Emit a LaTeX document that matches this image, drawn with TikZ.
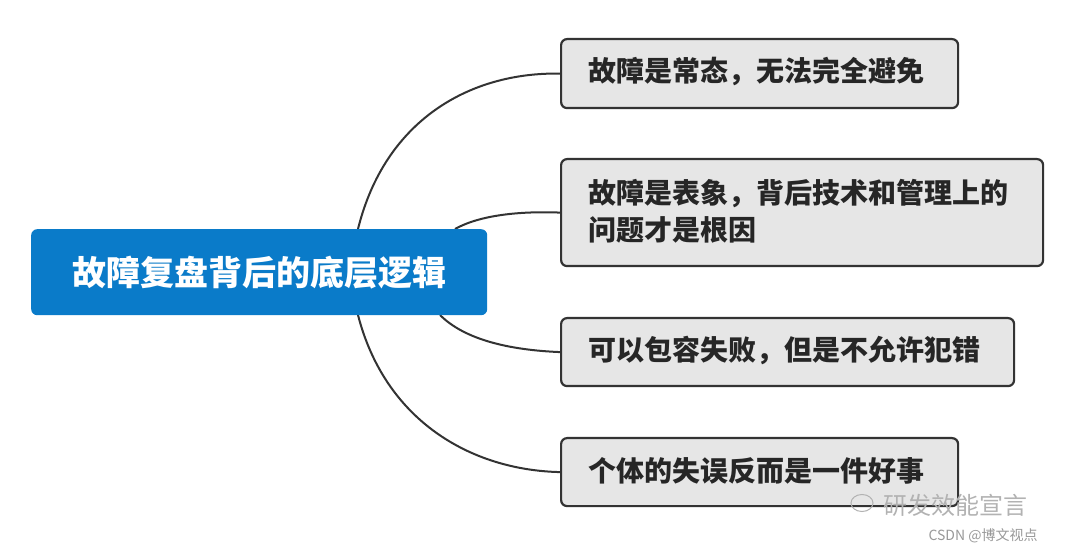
\documentclass[tikz,border=0pt]{standalone}
\usepackage{fontspec}
\usetikzlibrary{shapes.geometric}
\newfontfamily\cjk{Noto Sans CJK SC}
\setmainfont{Liberation Sans}
\definecolor{mainblue}{HTML}{0A7BC9}
\definecolor{boxgray}{HTML}{E6E6E6}
\definecolor{edge}{HTML}{333333}
\begin{document}
\begin{tikzpicture}[x=1pt,y=-1pt,
  topic/.style={draw=edge,line width=2.2pt,fill=boxgray,rounded corners=6pt,anchor=north west,inner sep=0pt},
  tx/.style={font=\cjk\bfseries\fontsize{28}{37}\selectfont,text=black!85,anchor=west,align=left},
  conn/.style={draw=edge,line width=2pt}]
\useasboundingbox (0,0) rectangle (1080,553);
\fill[white] (0,0) rectangle (1080,553);
% connectors
\coordinate (s1) at (358,229);
\coordinate (s2) at (455,229);
\coordinate (s3) at (440,315);
\coordinate (s4) at (358,315);
\node[topic,minimum width=397pt,minimum height=69pt] (b1) at (560,38) {};
\node[topic,minimum width=482pt,minimum height=107pt] (b2) at (560,158) {};
\node[topic,minimum width=453pt,minimum height=68pt] (b3) at (560,317) {};
\node[topic,minimum width=397pt,minimum height=68pt] (b4) at (560,437) {};
\draw[conn] (s1) .. controls (385,120) and (470,72) .. (b1.west);
\draw[conn] (s2) .. controls (480,215) and (520,211) .. (b2.west);
\draw[conn] (s3) .. controls (465,340) and (510,350) .. (b3.west);
\draw[conn] (s4) .. controls (385,420) and (470,470) .. (b4.west);
\node[fill=mainblue,rounded corners=6pt,minimum width=456pt,minimum height=86pt,anchor=north west] (c) at (31,229) {};
\node[font=\cjk\bfseries\fontsize{34}{40}\selectfont,text=white] (ct) at (c.center) {故障复盘背后的底层逻辑};
\node[tx] (t1) at (585,72) {故障是常态，无法完全避免};
\node[tx] (t2) at (585,211) {故障是表象，背后技术和管理上的\\问题才是根因};
\node[tx] (t3) at (585,351) {可以包容失败，但是不允许犯错};
\node[tx] (t4) at (585,471) {个体的失误反而是一件好事};
% watermark
\node[font=\cjk\fontsize{24}{26}\selectfont,text=gray!60,anchor=west] (w1) at (880,505) {研发效能宣言};
\node[font=\cjk\fontsize{14}{16}\selectfont,text=gray!80,anchor=west] (w2) at (925,536) {CSDN @博文视点};
\node[draw=gray!60,ellipse,minimum width=22pt,minimum height=17pt,inner sep=0pt,line width=1pt] (we) at (862,503) {};
\end{tikzpicture}
\end{document}
